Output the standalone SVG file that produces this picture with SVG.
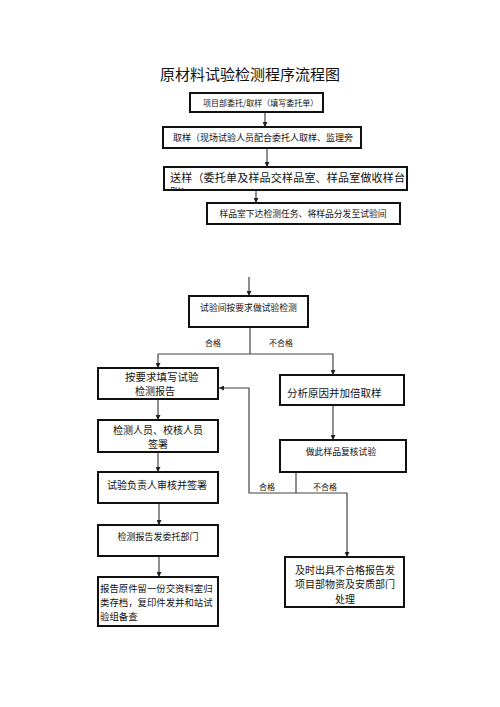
<svg xmlns="http://www.w3.org/2000/svg" width="500" height="707" viewBox="0 0 500 707">
<defs>
<marker id="ah" viewBox="0 0 8 8" refX="8" refY="4" markerWidth="5" markerHeight="5" orient="auto" markerUnits="userSpaceOnUse">
<path d="M0,0 L8,4 L0,8 z" fill="#222"/>
</marker>
<clipPath id="c3"><rect x="165" y="168" width="241" height="21"/></clipPath>
</defs>
<style>
.b{fill:#fff;stroke:#111;stroke-width:2}
.t{font-family:"Noto Sans CJK SC","Noto Sans CJK JP",sans-serif;fill:#111}
.c{fill:none;stroke:#444;stroke-width:1.2}
.a{marker-end:url(#ah)}
.m{text-anchor:middle}
</style>
<rect width="500" height="707" fill="#fff"/>
<text class="t m" x="250" y="80" font-size="15">原材料试验检测程序流程图</text>

<g id="connectors">
<line class="c a" x1="265" y1="112" x2="265" y2="127"/>
<line class="c a" x1="267" y1="148" x2="267" y2="167"/>
<line class="c a" x1="256" y1="190" x2="256" y2="203"/>
<line class="c a" x1="249" y1="277" x2="249" y2="296"/>
<polyline class="c" points="250,327 250,354"/>
<polyline class="c a" points="158,354 333,354 333,375"/>
<line class="c a" x1="158" y1="354" x2="158" y2="368"/>
<line class="c a" x1="158" y1="399" x2="158" y2="420"/>
<line class="c a" x1="158" y1="452" x2="158" y2="472"/>
<line class="c a" x1="159" y1="503" x2="159" y2="525"/>
<line class="c a" x1="159" y1="556" x2="159" y2="577"/>
<line class="c a" x1="333" y1="405" x2="333" y2="440"/>
<line class="c" x1="296" y1="472" x2="296" y2="493"/>
<polyline class="c a" points="296,493 249,493 249,388 219,388"/>
<polyline class="c a" points="296,493 347,493 347,557"/>
<text class="t" x="205" y="346" font-size="8">合格</text>
<text class="t" x="269" y="346" font-size="8">不合格</text>
<text class="t" x="259" y="490" font-size="8">合格</text>
<text class="t" x="313" y="490" font-size="8">不合格</text>
</g>

<g id="n1"><rect class="b" x="190" y="93" width="133" height="19"/>
<text class="t" x="203" y="106" font-size="8">项目部委托/取样（填写委托单）</text></g>

<g id="n2"><rect class="b" x="163" y="127" width="198" height="21"/>
<text class="t" x="173" y="141" font-size="9">取样（现场试验人员配合委托人取样、监理旁</text></g>

<g id="n3"><rect class="b" x="164" y="167" width="243" height="23"/>
<g clip-path="url(#c3)">
<text class="t" x="170" y="182" font-size="11" letter-spacing="0.2">送样（委托单及样品交样品室、样品室做收样台</text>
<text class="t" x="170" y="197" font-size="11">账）</text>
</g></g>

<g id="n4"><rect class="b" x="207" y="203" width="193" height="21"/>
<text class="t m" x="303" y="217" font-size="8.8">样品室下达检测任务、将样品分发至试验间</text></g>

<g id="n5"><rect class="b" x="189" y="296" width="119" height="31"/>
<text class="t m" x="248.5" y="310.5" font-size="8.8">试验间按要求做试验检测</text></g>

<g id="n6"><rect class="b" x="98" y="368" width="120" height="31"/>
<text class="t" x="125" y="381" font-size="10.5">按要求填写试验</text>
<text class="t" x="135" y="395" font-size="10">检测报告</text></g>

<g id="n7"><rect class="b" x="98" y="420" width="120" height="32"/>
<text class="t m" x="158" y="434" font-size="10">检测人员、校核人员</text>
<text class="t m" x="158" y="448" font-size="10">签署</text></g>

<g id="n8"><rect class="b" x="98" y="472" width="120" height="31"/>
<text class="t m" x="157" y="489" font-size="10">试验负责人审核并签署</text></g>

<g id="n9"><rect class="b" x="98" y="525" width="120" height="31"/>
<text class="t m" x="158" y="540" font-size="9">检测报告发委托部门</text></g>

<g id="n10"><rect class="b" x="98" y="577" width="120" height="49"/>
<text class="t" x="100" y="591.5" font-size="9.4">报告原件留一份交资料室归</text>
<text class="t" x="100" y="605.5" font-size="9.4">类存档，复印件发并和站试</text>
<text class="t" x="100" y="619.5" font-size="9.4">验组备查</text></g>

<g id="n11"><rect class="b" x="280" y="375" width="124" height="30"/>
<text class="t" x="287" y="397" font-size="10.5">分析原因并加倍取样</text></g>

<g id="n12"><rect class="b" x="280" y="440" width="126" height="32"/>
<text class="t m" x="341" y="454.5" font-size="8.8">做此样品复核试验</text></g>

<g id="n13"><rect class="b" x="285" y="557" width="119" height="50"/>
<text class="t m" x="345" y="573.5" font-size="10">及时出具不合格报告发</text>
<text class="t m" x="345" y="588" font-size="10">项目部物资及安质部门</text>
<text class="t m" x="345" y="602.5" font-size="10">处理</text></g>
</svg>
